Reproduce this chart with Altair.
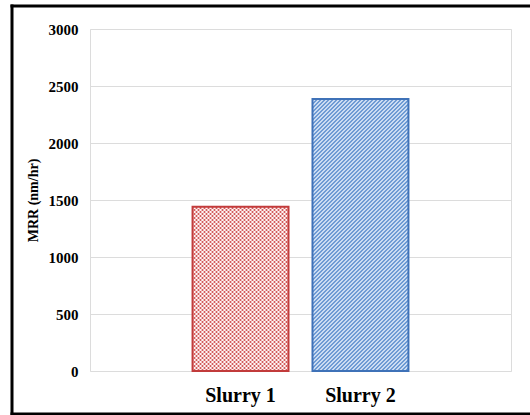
import altair as alt
import pandas as pd

categories = ["Slurry 1", "Slurry 2"]
mrr_values = [1440, 2385]
y_ticks = [0, 500, 1000, 1500, 2000, 2500, 3000]

PLOT_W, PLOT_H = 421, 342
Y_MAX = 3000
BAR_W = 96
FONT = "Liberation Serif"

df = pd.DataFrame({"slurry": categories, "mrr": mrr_values})


def stripes(c1, c2, period, direction, w, h):
    """Hard-edged diagonal stripe pattern built from a linear gradient."""
    n = max(1, round((w + h) / period))
    s = (w + h) / (w * w + h * h)
    if direction == "up":  # '/' stripes
        x1, y1, x2, y2 = 0, 0, w * s, h * s
    else:  # '\' stripes
        x1, y1, x2, y2 = 0, 1, w * s, 1 - h * s
    stops = []
    for k in range(n):
        a, m, b = k / n, (k + 0.5) / n, (k + 1) / n
        stops += [
            alt.GradientStop(offset=a, color=c1),
            alt.GradientStop(offset=m, color=c1),
            alt.GradientStop(offset=m, color=c2),
            alt.GradientStop(offset=b, color=c2),
        ]
    return alt.LinearGradient(gradient="linear", x1=x1, y1=y1, x2=x2, y2=y2, stops=stops)


h1 = mrr_values[0] / Y_MAX * PLOT_H
h2 = mrr_values[1] / Y_MAX * PLOT_H

blue_fill = stripes("#6e9bd4", "#cbdcf2", 4, "up", BAR_W, h2)
red_fill_a = stripes("#d76a6a", "#fce9e9", 4, "up", BAR_W, h1)
red_fill_b = stripes("rgba(255,255,255,0.55)", "rgba(200,50,50,0.25)", 4, "down", BAR_W, h1)

x_enc = alt.X(
    "slurry:N",
    sort=categories,
    scale=alt.Scale(domain=categories, paddingInner=0.2, paddingOuter=0.855),
    axis=alt.Axis(
        title=None, labelAngle=0, ticks=False, domain=False,
        labelFont=FONT, labelFontSize=20, labelFontWeight="bold",
        labelColor="black", labelPadding=14,
    ),
)
y_enc = alt.Y(
    "mrr:Q",
    scale=alt.Scale(domain=[0, Y_MAX], nice=False),
    axis=alt.Axis(
        title="MRR (nm/hr)", values=y_ticks, format="d", grid=True, gridColor="#dcdcdc",
        domain=False, ticks=False, labelPadding=12,
        labelFont=FONT, labelFontSize=15, labelFontWeight="bold", labelColor="black",
        titleFont=FONT, titleFontSize=14, titleFontWeight="bold", titleColor="black",
        titlePadding=8,
    ),
)

base = alt.Chart(df).encode(x=x_enc, y=y_enc)

blue_bar = base.transform_filter(alt.datum.slurry == "Slurry 2").mark_bar(
    fill=blue_fill, stroke="#3f72b8", strokeWidth=2
)
red_bar_a = base.transform_filter(alt.datum.slurry == "Slurry 1").mark_bar(
    fill=red_fill_a
)
red_bar_b = base.transform_filter(alt.datum.slurry == "Slurry 1").mark_bar(
    fill=red_fill_b, stroke="#c23b3b", strokeWidth=2
)

# outer figure frame (left, top, bottom edges; right edge is cropped off)
frame_src = alt.Data(values=[{}])
frame_left = alt.Chart(frame_src).mark_rule(color="black", strokeWidth=3).encode(
    x=alt.value(-78), y=alt.value(-24.5), y2=alt.value(386.5)
)
frame_top = alt.Chart(frame_src).mark_rule(color="black", strokeWidth=3).encode(
    x=alt.value(-79.5), x2=alt.value(460), y=alt.value(-23)
)
frame_bottom = alt.Chart(frame_src).mark_rule(color="black", strokeWidth=3).encode(
    x=alt.value(-79.5), x2=alt.value(460), y=alt.value(385)
)

chart = (
    alt.layer(blue_bar, red_bar_a, red_bar_b, frame_left, frame_top, frame_bottom)
    .properties(
        width=PLOT_W,
        height=PLOT_H,
        autosize=alt.AutoSizeParams(type="none"),
        padding={"left": 90, "top": 29, "right": 19, "bottom": 44},
        background="white",
    )
    .configure_view(stroke="#dcdcdc", strokeWidth=1)
)

chart.save("out.html", embed_options={"renderer": "svg", "actions": False})
